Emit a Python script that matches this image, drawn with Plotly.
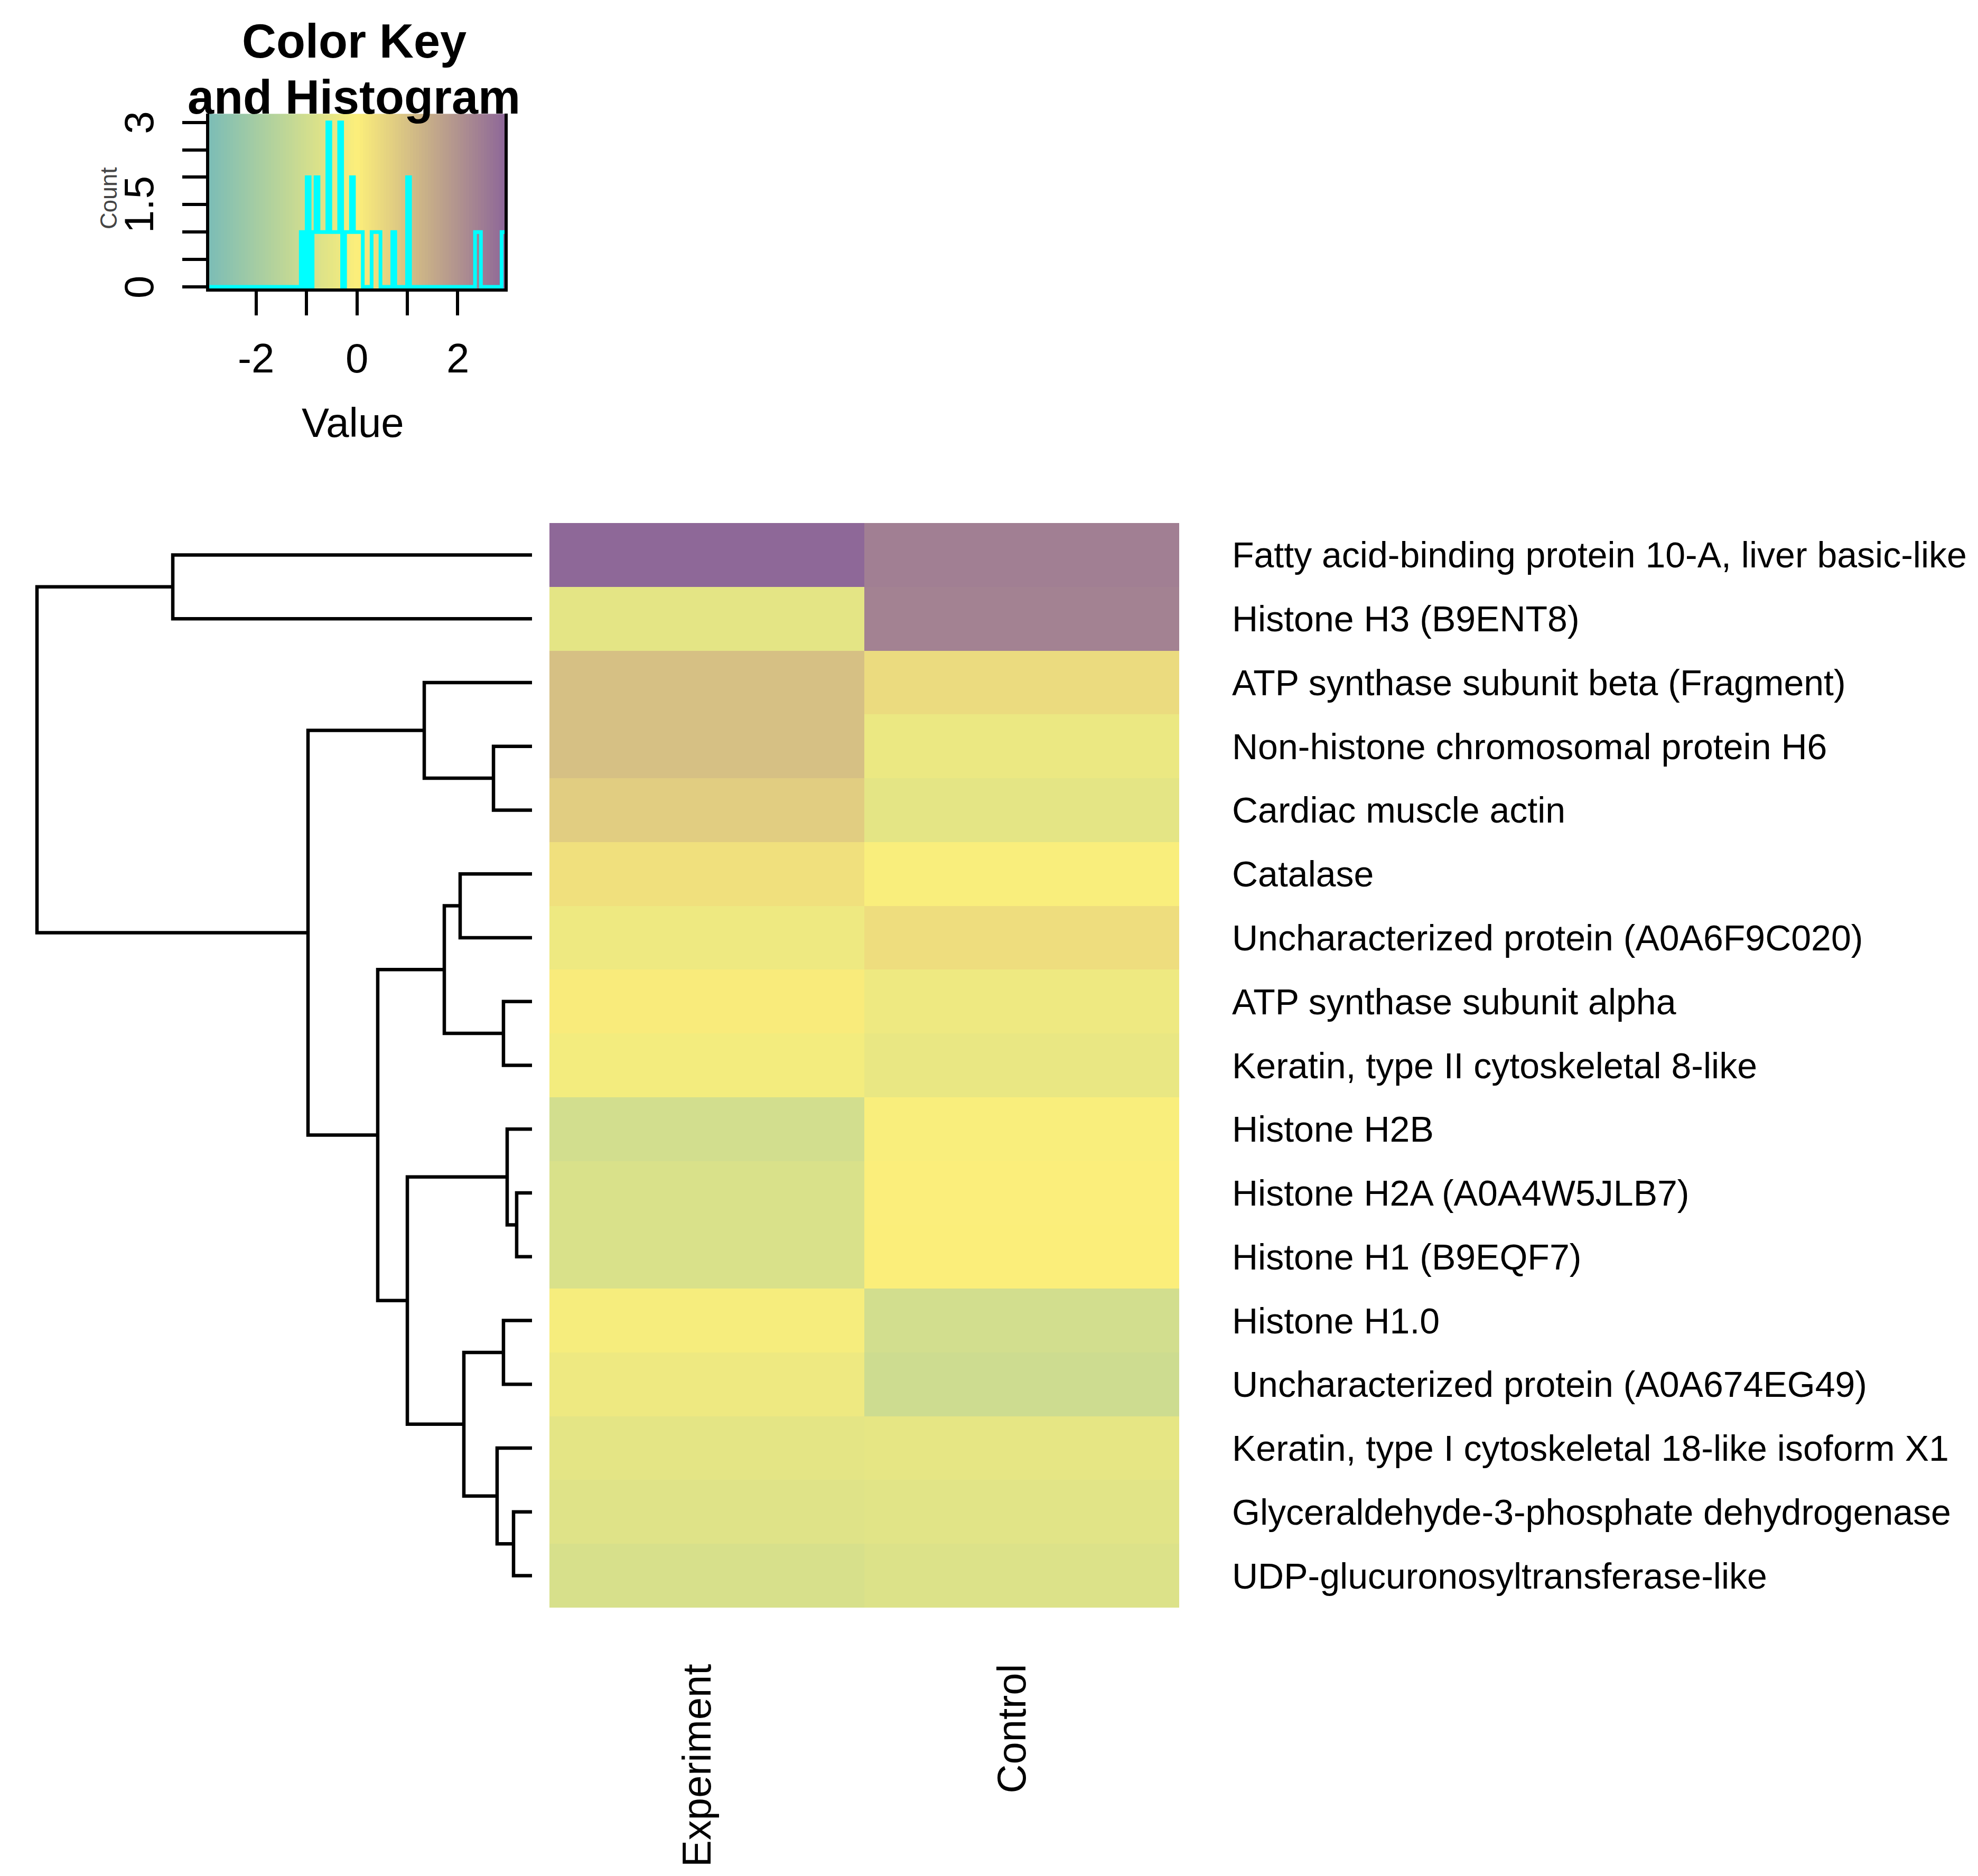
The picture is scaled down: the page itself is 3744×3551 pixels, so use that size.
import numpy as np
import plotly.graph_objects as go

# ---------------- data ----------------
proteins = [
    "Fatty acid-binding protein 10-A, liver basic-like",
    "Histone H3 (B9ENT8)",
    "ATP synthase subunit beta (Fragment)",
    "Non-histone chromosomal protein H6",
    "Cardiac muscle actin",
    "Catalase",
    "Uncharacterized protein (A0A6F9C020)",
    "ATP synthase subunit alpha",
    "Keratin, type II cytoskeletal 8-like",
    "Histone H2B",
    "Histone H2A (A0A4W5JLB7)",
    "Histone H1 (B9EQF7)",
    "Histone H1.0",
    "Uncharacterized protein (A0A674EG49)",
    "Keratin, type I cytoskeletal 18-like isoform X1",
    "Glyceraldehyde-3-phosphate dehydrogenase",
    "UDP-glucuronosyltransferase-like",
]
samples = ["Experiment", "Control"]
experiment = [2.93, -0.56, 1.02, 1.02, 0.73, 0.32, -0.32, 0.08, -0.20,
              -0.96, -0.79, -0.79, -0.14, -0.32, -0.56, -0.67, -0.85]
control = [2.43, 2.37, 0.44, -0.38, -0.56, -0.08, 0.38, -0.32, -0.44,
           -0.08, -0.03, 0.02, -0.97, -1.08, -0.50, -0.62, -0.73]

# row dendrogram (leaf indices 0..16 = rows top to bottom; >=17 = earlier merges)
merge_left = [10, 15, 9, 7, 12, 14, 3, 21, 5, 25, 2, 19, 26, 27, 0, 31]
merge_right = [11, 16, 17, 8, 13, 18, 4, 22, 6, 20, 23, 24, 28, 29, 1, 30]
merge_height = [0.186, 0.224, 0.301, 0.346, 0.346, 0.423, 0.467, 0.826,
                0.871, 1.063, 1.306, 1.511, 1.870, 2.715, 4.354, 6.0]

n_colors = 100
key_ticks_x = [-2, -1, 0, 1, 2]
key_labels_x = ["-2", "", "0", "", "2"]

# ---------------- helpers ----------------
W, H = 3744, 3551


def px(x):
    return x / W


def py(y):
    return 1 - y / H


teal = (124, 188, 182)
yellow = (252, 239, 122)
purple = (142, 104, 152)
colorscale = [[0.0, "rgb(%d,%d,%d)" % teal],
              [0.5, "rgb(%d,%d,%d)" % yellow],
              [1.0, "rgb(%d,%d,%d)" % purple]]

values = np.array([experiment, control]).T  # rows x samples
extreme = float(np.max(np.abs(values)))
breaks = np.linspace(-extreme, extreme, n_colors + 1)
counts, _ = np.histogram(values.ravel(), bins=breaks)
hy = list(counts) + [counts[-1]]
ytop = counts.max() / 0.95

n_rows = len(proteins)

# ---------------- layout geometry (pixels) ----------------
hm_left, hm_right, hm_top, hm_bottom = 1032, 2224, 982, 3035
dend_root_x, dend_leaf_x = 62, 999
key_left, key_right, key_bottom = 388, 947, 535
key_count_px = 102.8  # px per count

fig = go.Figure()

# heatmap
fig.add_trace(go.Heatmap(
    z=values, x=[0, 1], y=list(range(n_rows)),
    colorscale=colorscale, zmin=-extreme, zmax=extreme,
    showscale=False, xaxis="x", yaxis="y", hoverinfo="skip"))

# dendrogram
node_y = {i: float(i) for i in range(n_rows)}
node_h = {i: 0.0 for i in range(n_rows)}
dx, dy = [], []
for k, (a, b, h) in enumerate(zip(merge_left, merge_right, merge_height)):
    nid = n_rows + k
    ya, yb = node_y[a], node_y[b]
    dx += [node_h[a], h, h, node_h[b], None]
    dy += [ya, ya, yb, yb, None]
    node_y[nid] = (ya + yb) / 2
    node_h[nid] = h
fig.add_trace(go.Scatter(x=dx, y=dy, mode="lines",
                         line=dict(color="black", width=6.5),
                         xaxis="x2", yaxis="y2", hoverinfo="skip"))

# colour key gradient
centers = (breaks[:-1] + breaks[1:]) / 2
ylo = -0.03
fig.add_trace(go.Heatmap(
    z=[list(centers)], x=list(breaks), y=[ylo, ytop],
    colorscale=colorscale, zmin=-extreme, zmax=extreme,
    showscale=False, xaxis="x3", yaxis="y3", hoverinfo="skip"))
# histogram step line
fig.add_trace(go.Scatter(x=list(breaks), y=hy, mode="lines",
                         line=dict(color="#00FFFF", width=7, shape="hv"),
                         xaxis="x3", yaxis="y3", hoverinfo="skip"))

hmax = max(merge_height)
dscale = (dend_leaf_x - dend_root_x) / hmax
dpad = 0.05
hidden = dict(visible=False, showgrid=False, zeroline=False)
key_top_px = key_bottom - (ytop - ylo) * key_count_px
key_bot_px = key_bottom + (0 - ylo) * key_count_px

fig.update_layout(
    width=W, height=H, margin=dict(l=0, r=0, t=0, b=0),
    paper_bgcolor="white", plot_bgcolor="white", showlegend=False,
    xaxis=dict(domain=[px(hm_left), px(hm_right)], range=[-0.5, 1.5], **hidden),
    yaxis=dict(domain=[py(hm_bottom), py(hm_top)], range=[n_rows - 0.5, -0.5], **hidden),
    xaxis2=dict(domain=[px(dend_leaf_x - (hmax + dpad) * dscale), px(dend_leaf_x)],
                range=[hmax + dpad, 0], anchor="y2", **hidden),
    yaxis2=dict(domain=[py(hm_bottom), py(hm_top)], range=[n_rows - 0.5, -0.5],
                anchor="x2", **hidden),
    xaxis3=dict(domain=[px(key_left), px(key_right)], range=[-extreme, extreme],
                anchor="y3", showgrid=False, zeroline=False,
                showline=True, linecolor="black", linewidth=6,
                ticks="outside", tickvals=key_ticks_x, ticklen=45, tickwidth=6,
                tickcolor="black", showticklabels=False),
    yaxis3=dict(domain=[py(key_bot_px), py(key_top_px)], range=[ylo, ytop],
                anchor="x3", showgrid=False, zeroline=False,
                showline=True, mirror=True, linecolor="black", linewidth=6,
                ticks="outside", tickvals=list(np.arange(0, counts.max() + 0.01, 0.5)),
                ticklen=45, tickwidth=6, tickcolor="black", showticklabels=False),
)

ann = []
font_row = dict(family="Liberation Sans, Arial, sans-serif", size=68, color="black")
for i, name in enumerate(proteins):
    ann.append(dict(text=name, x=px(2322), xref="paper", y=i, yref="y",
                    xanchor="left", yanchor="middle", showarrow=False, font=font_row))
for j, s in enumerate(samples):
    ann.append(dict(text=s, x=j, xref="x", xshift=-20, y=py(3140), yref="paper",
                    xanchor="center", yanchor="top", textangle=-90, showarrow=False,
                    font=dict(family="Liberation Sans, Arial, sans-serif", size=76,
                              color="black")))
font_key = dict(family="Liberation Sans, Arial, sans-serif", size=78, color="black")
for v, t in zip(key_ticks_x, key_labels_x):
    if t:
        ann.append(dict(text=t, x=v, xref="x3", y=py(670), yref="paper",
                        xanchor="center", yanchor="middle", showarrow=False,
                        font=font_key))
for v in [0, counts.max() / 2, counts.max()]:
    lab = ("%g" % v)
    ann.append(dict(text=lab, x=px(255), xref="paper", y=v, yref="y3",
                    xanchor="center", yanchor="middle", textangle=-90,
                    showarrow=False, font=font_key))
ann.append(dict(text="Value", x=px(660), xref="paper", y=py(792), yref="paper",
                xanchor="center", yanchor="middle", showarrow=False, font=font_key))
ann.append(dict(text="Count", x=px(198), xref="paper", y=py(368), yref="paper",
                xanchor="center", yanchor="middle", textangle=-90, showarrow=False,
                font=dict(family="Liberation Sans, Arial, sans-serif", size=44,
                          color="#444444")))
font_title = dict(family="Liberation Sans, Arial, sans-serif", size=90, color="black")
ann.append(dict(text="<b>Color Key</b>", x=px(662), xref="paper", y=py(70), yref="paper",
                xanchor="center", yanchor="middle", showarrow=False, font=font_title))
ann.append(dict(text="<b>and Histogram</b>", x=px(662), xref="paper", y=py(176),
                yref="paper", xanchor="center", yanchor="middle", showarrow=False,
                font=font_title))
fig.update_layout(annotations=ann)

fig.write_html("out.html")
